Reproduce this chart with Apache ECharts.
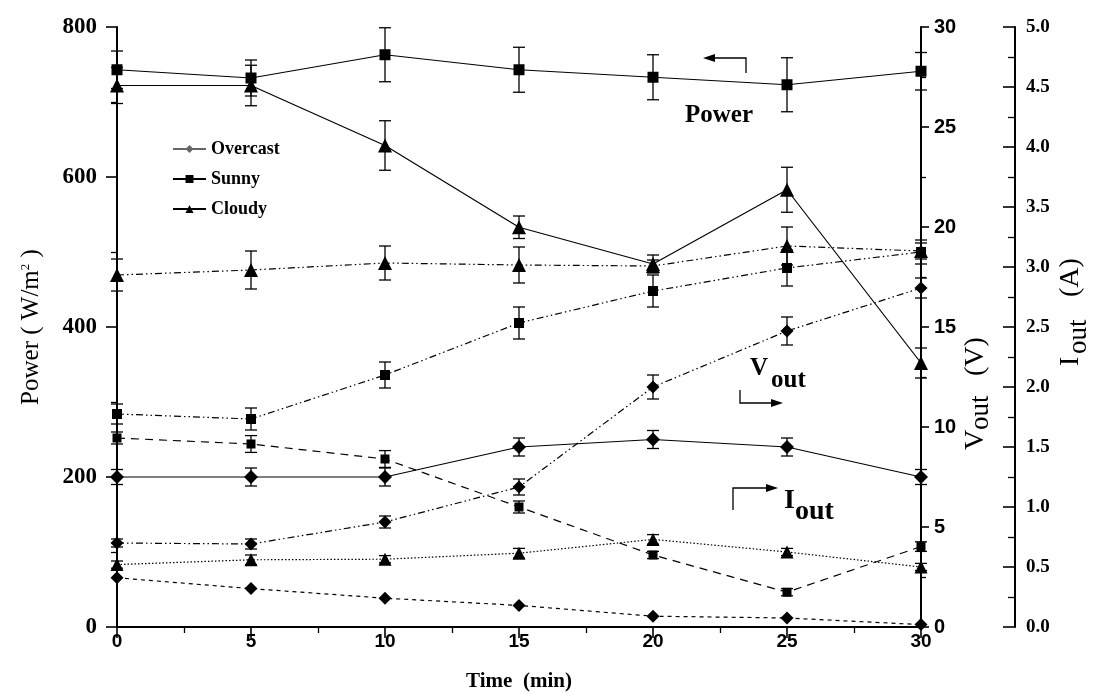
<!DOCTYPE html>
<html>
<head>
<meta charset="utf-8">
<script src="https://cdn.jsdelivr.net/npm/echarts@6/dist/echarts.min.js"></script>
<style>
  html, body { margin: 0; padding: 0; background: #fff; }
  #chart { width: 1093px; height: 694px; }
</style>
</head>
<body>
<div id="chart"></div>
<script>
// time axis (min)
var time = [0, 5, 10, 15, 20, 25, 30];

// power (W/m2), solid lines
var powerOvercast = [200, 200, 200, 240, 250, 240, 200];
var powerSunny    = [743, 732, 763, 743, 733, 723, 741];
var powerCloudy   = [722, 722, 642, 533, 484, 583, 352];
var powerOvercastErr = [10, 12, 12, 12, 12, 12, 10];
var powerSunnyErr    = [25, 24, 36, 30, 30, 36, 25];
var powerCloudyErr   = [24, 27, 33, 15, 12, 30, 20];

// Vout (V), dash-dot lines
var voutOvercast = [4.2, 4.15, 5.25, 7.0, 12.0, 14.8, 16.95];
var voutSunny    = [10.65, 10.4, 12.6, 15.2, 16.8, 17.95, 18.75];
var voutCloudy   = [17.6, 17.85, 18.2, 18.1, 18.05, 19.05, 18.8];
var voutOvercastErr = [0.2, 0.25, 0.3, 0.4, 0.6, 0.7, 0.5];
var voutSunnyErr    = [0.5, 0.55, 0.65, 0.8, 0.8, 0.9, 0.6];
var voutCloudyErr   = [0.8, 0.95, 0.85, 0.9, 0.3, 0.95, 0.4];

// Iout (A), dashed / dotted lines
var ioutOvercast = [0.41, 0.32, 0.24, 0.18, 0.09, 0.075, 0.02];
var ioutSunny    = [1.575, 1.525, 1.4, 1.0, 0.6, 0.29, 0.67];
var ioutCloudy   = [0.52, 0.56, 0.565, 0.615, 0.73, 0.625, 0.5];
var ioutSunnyErr  = [0.05, 0.07, 0.07, 0.05, 0.03, 0.03, 0.04];
var ioutCloudyErr = [0.03, 0.04, 0.03, 0.04, 0.04, 0.03, 0.03];

var serif = '"Liberation Serif", "DejaVu Serif", serif';
var sans = '"Liberation Sans", Arial, sans-serif';
var narrow = '"Liberation Sans Narrow", "Liberation Sans", Arial, sans-serif';

function pairs(ys) {
    return time.map(function (t, i) { return [t, ys[i]]; });
}
function errData(ys, es) {
    var out = [];
    for (var i = 0; i < time.length; i++) {
        if (es[i] > 0) out.push([time[i], ys[i], es[i]]);
    }
    return out;
}

function lineSeries(name, ys, yAxis, symbol, size, dash) {
    return {
        name: name,
        type: 'line',
        yAxisIndex: yAxis,
        data: pairs(ys),
        symbol: symbol,
        symbolSize: size,
        clip: false,
        itemStyle: { color: '#000' },
        lineStyle: { color: '#000', width: 1.2, type: dash },
        z: 3
    };
}

function errSeries(ys, es, yAxis) {
    return {
        type: 'custom',
        yAxisIndex: yAxis,
        data: errData(ys, es),
        silent: true,
        clip: false,
        z: 2,
        renderItem: function (params, api) {
            var x = api.value(0), y = api.value(1), e = api.value(2);
            var top = api.coord([x, y + e]);
            var bot = api.coord([x, y - e]);
            var w = 6;
            var st = { stroke: '#000', lineWidth: 1.3 };
            return {
                type: 'group',
                children: [
                    { type: 'line', shape: { x1: top[0], y1: top[1], x2: bot[0], y2: bot[1] }, style: st },
                    { type: 'line', shape: { x1: top[0] - w, y1: top[1], x2: top[0] + w, y2: top[1] }, style: st },
                    { type: 'line', shape: { x1: bot[0] - w, y1: bot[1], x2: bot[0] + w, y2: bot[1] }, style: st }
                ]
            };
        }
    };
}

var dashDot = [7, 3, 1.5, 3, 1.5, 3];
var longDash = [8, 6];
var shortDash = [4, 4];
var dotted = [1.5, 2];

var axisLine = { show: true, lineStyle: { color: '#000', width: 2 } };
var majorTick = { show: true, length: 11, lineStyle: { color: '#000', width: 1.6 } };
var minorTick = { show: true, splitNumber: 2, length: 6, lineStyle: { color: '#000', width: 1.3 } };

function txt(x, y, s, size, bold) {
    return {
        type: 'text', x: x, y: y,
        style: { text: s, fontFamily: serif, fontWeight: bold ? 'bold' : 'normal', fontSize: size, fill: '#000', align: 'left', verticalAlign: 'top' }
    };
}

var chart = echarts.init(document.getElementById('chart'));
chart.setOption({
    animation: false,
    backgroundColor: '#fff',
    grid: { left: 117, right: 172, top: 27, bottom: 67, outerBoundsMode: 'none' },
    legend: {
        orient: 'vertical',
        left: 167,
        top: 135,
        itemWidth: 33,
        itemHeight: 10,
        itemGap: 12,
        textStyle: { fontFamily: serif, fontWeight: 'bold', fontSize: 18, color: '#000' },
        data: [
            { name: 'Overcast', itemStyle: { color: '#666' }, lineStyle: { color: '#666', type: 'solid' } },
            { name: 'Sunny' },
            { name: 'Cloudy' }
        ]
    },
    xAxis: {
        type: 'value',
        min: 0, max: 30, interval: 5,
        name: 'Time  (min)',
        nameLocation: 'middle',
        nameGap: 44,
        nameTextStyle: { fontFamily: serif, fontWeight: 'bold', fontSize: 21, color: '#000' },
        axisLine: axisLine,
        axisTick: majorTick,
        minorTick: minorTick,
        splitLine: { show: false },
        axisLabel: { fontFamily: narrow, fontWeight: 'bold', fontSize: 19, color: '#000', margin: 5 }
    },
    yAxis: [
        {
            type: 'value',
            min: 0, max: 800, interval: 200,
            name: '{a|Power ( W/m}{s|2}{a| )}',
            nameLocation: 'middle',
            nameRotate: 90,
            nameGap: 58,
            nameTextStyle: {
                rich: {
                    a: { fontFamily: serif, fontSize: 25, color: '#000', verticalAlign: 'top', lineHeight: 40 },
                    s: { fontFamily: serif, fontSize: 13, color: '#000', verticalAlign: 'top', lineHeight: 18 }
                }
            },
            axisLine: axisLine,
            axisTick: majorTick,
            minorTick: minorTick,
            splitLine: { show: false },
            axisLabel: { fontFamily: serif, fontWeight: 'bold', fontSize: 23, color: '#000', margin: 20 }
        },
        {
            type: 'value',
            position: 'right',
            min: 0, max: 30, interval: 5,
            axisLine: axisLine,
            axisTick: { show: true, length: 8, lineStyle: { color: '#000', width: 1.6 } },
            minorTick: { show: true, splitNumber: 2, length: 5, lineStyle: { color: '#000', width: 1.3 } },
            splitLine: { show: false },
            axisLabel: { fontFamily: sans, fontWeight: 'bold', fontSize: 20, color: '#000', margin: 13 }
        },
        {
            type: 'value',
            position: 'right',
            offset: 94,
            min: 0, max: 5, interval: 0.5,
            axisLine: axisLine,
            axisTick: { show: true, inside: true, length: 12, lineStyle: { color: '#000', width: 1.6 } },
            minorTick: { show: true, splitNumber: 2, length: 7, lineStyle: { color: '#000', width: 1.3 } },
            splitLine: { show: false },
            axisLabel: {
                fontFamily: serif, fontWeight: 'bold', fontSize: 19, color: '#000', margin: 11,
                formatter: function (v) { return v.toFixed(1); }
            }
        }
    ],
    graphic: [
        // right axis titles, rotated to read upward
        { type: 'group', x: 962, y: 450, rotation: Math.PI / 2, children: [
            txt(0, 0, 'V', 28), txt(20, 5, 'out', 27), txt(74, 0, '(V)', 28)
        ] },
        { type: 'group', x: 1057, y: 366, rotation: Math.PI / 2, children: [
            txt(0, 0, 'I', 28), txt(12, 8, 'out', 27), txt(69, 0, '(A)', 28)
        ] },
        // "Power" marker with left arrow
        { type: 'text', left: 685, top: 103, style: { text: 'Power', fontFamily: serif, fontWeight: 'bold', fontSize: 25, fill: '#000' } },
        { type: 'polyline', shape: { points: [[712, 58], [746, 58], [746, 73]] }, style: { stroke: '#000', lineWidth: 1.3, fill: null } },
        { type: 'polygon', shape: { points: [[703, 58], [715, 54], [715, 62]] }, style: { fill: '#000' } },
        // Vout marker with right arrow
        txt(750, 356, 'V', 25, true), txt(771, 368, 'out', 25, true),
        { type: 'polyline', shape: { points: [[740, 390], [740, 403], [774, 403]] }, style: { stroke: '#000', lineWidth: 1.3, fill: null } },
        { type: 'polygon', shape: { points: [[783, 403], [771, 399], [771, 407]] }, style: { fill: '#000' } },
        // Iout marker with right arrow
        txt(784, 487, 'I', 28, true), txt(795, 498, 'out', 28, true),
        { type: 'polyline', shape: { points: [[733, 510], [733, 488], [768, 488]] }, style: { stroke: '#000', lineWidth: 1.3, fill: null } },
        { type: 'polygon', shape: { points: [[778, 488], [766, 484], [766, 492]] }, style: { fill: '#000' } }
    ],
    series: [
        lineSeries('Overcast', powerOvercast, 0, 'diamond', 14, 'solid'),
        lineSeries('Sunny', powerSunny, 0, 'rect', 11, 'solid'),
        lineSeries('Cloudy', powerCloudy, 0, 'triangle', 14, 'solid'),
        errSeries(powerOvercast, powerOvercastErr, 0),
        errSeries(powerSunny, powerSunnyErr, 0),
        errSeries(powerCloudy, powerCloudyErr, 0),

        lineSeries('Vout Overcast', voutOvercast, 1, 'diamond', 13, dashDot),
        lineSeries('Vout Sunny', voutSunny, 1, 'rect', 10, dashDot),
        lineSeries('Vout Cloudy', voutCloudy, 1, 'triangle', 14, dashDot),
        errSeries(voutOvercast, voutOvercastErr, 1),
        errSeries(voutSunny, voutSunnyErr, 1),
        errSeries(voutCloudy, voutCloudyErr, 1),

        lineSeries('Iout Overcast', ioutOvercast, 2, 'diamond', 13, shortDash),
        lineSeries('Iout Sunny', ioutSunny, 2, 'rect', 9, longDash),
        lineSeries('Iout Cloudy', ioutCloudy, 2, 'triangle', 13, dotted),
        errSeries(ioutSunny, ioutSunnyErr, 2),
        errSeries(ioutCloudy, ioutCloudyErr, 2)
    ]
});
</script>
</body>
</html>
